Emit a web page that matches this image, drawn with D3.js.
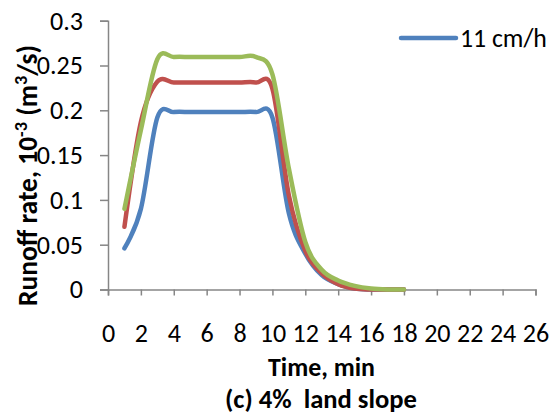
<!DOCTYPE html>
<html>
<head>
<meta charset="utf-8">
<script src="https://cdn.jsdelivr.net/npm/d3@7"></script>
<style>
  body { margin: 0; background: white; }
  text { font-family: Carlito, Lato, sans-serif; }
</style>
</head>
<body>
<div id="chart"></div>
<script>
// data
let times = [1, 2, 3, 4, 5, 6, 7, 8, 9, 10, 11, 12, 13, 14, 15, 16, 17, 18];
let blueRate = [0.046, 0.09, 0.192, 0.198, 0.198, 0.198, 0.198, 0.198, 0.198, 0.192, 0.085, 0.04, 0.016, 0.006, 0.001, 0, 0, 0];
let redRate = [0.07, 0.187, 0.232, 0.231, 0.231, 0.231, 0.231, 0.231, 0.231, 0.224, 0.105, 0.043, 0.018, 0.006, 0.001, 0, 0, 0];
let greenRate = [0.09, 0.178, 0.257, 0.2595, 0.2595, 0.2595, 0.2595, 0.2595, 0.2595, 0.24, 0.135, 0.053, 0.022, 0.01, 0.004, 0.001, 0, 0];
let xTicks = [0, 2, 4, 6, 8, 10, 12, 14, 16, 18, 20, 22, 24, 26];
let yTicks = [0, 0.05, 0.1, 0.15, 0.2, 0.25, 0.3];
let legendLabel = "11 cm/h";

let w = 552, h = 414;

let viz = d3.select("#chart")
    .append("svg")
    .attr("width", w)
    .attr("height", h)
    .style("background-color", "white")
;

let xScale = d3.scaleLinear().domain([0, 26]).range([108, 535.5]);
let yScale = d3.scaleLinear().domain([0, 0.3]).range([289.5, 20.7]);

let axisColor = "#868686";

// scale a text so its width matches what the picture shows
function fitWidth(sel, target){
  let len = sel.node().getComputedTextLength();
  let k = target / len;
  let fs = parseFloat(sel.attr("font-size"));
  sel.attr("font-size", fs * k);
  sel.selectAll("tspan").each(function(){
    let t = d3.select(this);
    if (t.attr("font-size")) t.attr("font-size", parseFloat(t.attr("font-size")) * k);
    if (t.attr("dy")) t.attr("dy", parseFloat(t.attr("dy")) * k);
  });
  return fs * k;
}

// x axis
let xAxis = d3.axisBottom(xScale).tickValues(xTicks).tickSize(6);
let xAxisGroup = viz.append("g").attr("class", "xaxis")
    .attr("transform", "translate(0, " + yScale(0) + ")")
    .call(xAxis);

// y axis
let yAxis = d3.axisLeft(yScale).tickValues(yTicks).tickSize(8).tickPadding(17)
    .tickFormat(d => String(+d.toFixed(2)));
let yAxisGroup = viz.append("g").attr("class", "yaxis")
    .attr("transform", "translate(" + xScale(0) + ", 0)")
    .call(yAxis);

viz.selectAll(".xaxis path, .yaxis path, .tick line")
    .attr("stroke", axisColor)
    .attr("stroke-width", 1.5);
viz.selectAll(".tick text")
    .attr("font-size", 20)
    .attr("fill", "black")
    .style("font-family", "Carlito, Lato, sans-serif");

// tick label size from the "0.3" label width
let topLabel = yAxisGroup.selectAll(".tick text").filter(d => d == 0.3);
let tickFont = fitWidth(topLabel, 33);
viz.selectAll(".tick text").attr("font-size", tickFont);
xAxisGroup.selectAll(".tick text").attr("y", 52).attr("dy", 0);

// lines
let series = [
  {name: "blue", values: blueRate, color: "#4F81BD"},
  {name: "red", values: redRate, color: "#C0504D"},
  {name: "green", values: greenRate, color: "#9BBB59"}
];

let line = d3.line()
    .x((d, i) => xScale(times[i]))
    .y(d => yScale(d))
    .curve(d3.curveCardinal.tension(0));

viz.append("g").selectAll("path.series")
    .data(series)
    .enter()
    .append("path")
    .attr("class", "series")
    .attr("d", d => line(d.values))
    .attr("fill", "none")
    .attr("stroke", d => d.color)
    .attr("stroke-width", 4.5)
    .attr("stroke-linecap", "round")
    .attr("stroke-linejoin", "round");

// legend (only the first series shows)
let legend = viz.append("g").attr("transform", "translate(401, 38)");
legend.append("line")
    .attr("x1", 0).attr("x2", 55)
    .attr("y1", 0).attr("y2", 0)
    .attr("stroke", series[0].color)
    .attr("stroke-width", 4.5)
    .attr("stroke-linecap", "round");
let legendText = legend.append("text")
    .attr("x", 59)
    .attr("y", 0)
    .attr("dy", "0.35em")
    .attr("font-size", 20)
    .text(legendLabel);
fitWidth(legendText, 87);

// axis titles
let xTitle = viz.append("text")
    .attr("x", 321.5)
    .attr("y", 376)
    .attr("text-anchor", "middle")
    .attr("font-size", 21)
    .attr("font-weight", "bold")
    .text("Time, min");
fitWidth(xTitle, 107);

let caption = viz.append("text")
    .attr("x", 321)
    .attr("y", 408)
    .attr("text-anchor", "middle")
    .attr("font-size", 21)
    .attr("font-weight", "bold")
    .style("white-space", "pre")
    .text("(c) 4%  land slope");
fitWidth(caption, 192);

let yTitle = viz.append("text")
    .attr("transform", "translate(37, 175.5) rotate(-90)")
    .attr("text-anchor", "middle")
    .attr("font-size", 21)
    .attr("font-weight", "bold");
yTitle.append("tspan").text("Runoff rate, 10");
yTitle.append("tspan").attr("font-size", 14).attr("dy", -8).text("-3");
yTitle.append("tspan").attr("dy", 8).text(" (m");
yTitle.append("tspan").attr("font-size", 14).attr("dy", -8).text("3");
yTitle.append("tspan").attr("dy", 8).text("/s)");
fitWidth(yTitle, 261);
</script>
</body>
</html>
